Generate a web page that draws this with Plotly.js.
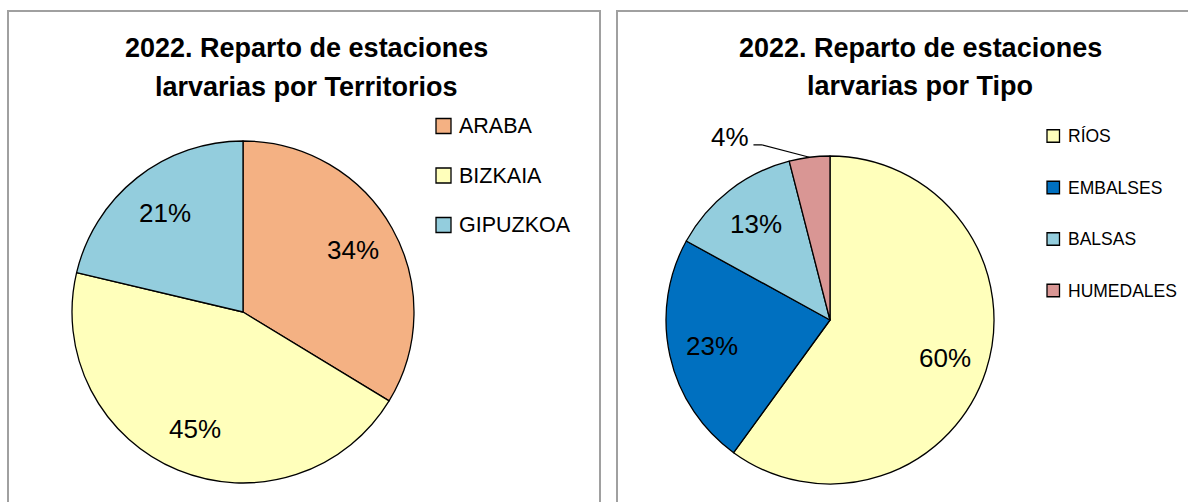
<!DOCTYPE html>
<html><head><meta charset="utf-8">
<script src="https://cdn.plot.ly/plotly-3.0.1.min.js"></script>
<style>html,body{margin:0;padding:0;background:#fff;} #chart{width:1188px;height:502px;}</style>
</head><body><div id="chart"></div>
<script>
// ---- data (shares, in %) ----
const territoryLabels = ['ARABA', 'BIZKAIA', 'GIPUZKOA'];
const territoryValues = [33.7, 45.0, 21.3];
const typeLabels = ['RÍOS', 'EMBALSES', 'BALSAS', 'HUMEDALES'];
const typeValues = [60, 23, 13, 4];
const leftTitle = ['2022. Reparto de estaciones', 'larvarias por Territorios'];
const rightTitle = ['2022. Reparto de estaciones', 'larvarias por Tipo'];

// ---- styles / layout ----
const territoryColors = ['#F4B183', '#FFFFBB', '#93CDDD'];
const typeColors = ['#FFFFBB', '#0070C0', '#93CDDD', '#D99694'];
const W = 1188, H = 502;
const FONT = '"Liberation Sans", Arial, sans-serif';
const px = x => x / W, py = y => 1 - y / H;

const panels = [
  {labels: territoryLabels, values: territoryValues, colors: territoryColors,
   cx: 243, cy: 312, r: 171, title: leftTitle, titleX: 306, titleY: [48, 87], titleSize: 27,
   legX: 436, legY0: 126, legDY: 49.5, sw: 15, legFont: 21.5, labFont: 26,
   frame: [8, 11, 600, 530]},
  {labels: typeLabels, values: typeValues, colors: typeColors,
   cx: 830, cy: 320, r: 164, title: rightTitle, titleX: 920, titleY: [48, 86], titleSize: 27,
   legX: 1047, legY0: 136, legDY: 51.5, sw: 12.5, legFont: 17.5, labFont: 26,
   frame: [617, 11, 1210, 530]}
];

const traces = [], annotations = [], shapes = [];

panels.forEach(p => {
  traces.push({
    type: 'pie', labels: p.labels, values: p.values, sort: false,
    direction: 'clockwise', rotation: 0, textinfo: 'none', hoverinfo: 'none',
    marker: {colors: p.colors, line: {color: '#000', width: 1.3}},
    domain: {x: [px(p.cx - p.r), px(p.cx + p.r)], y: [py(p.cy + p.r), py(p.cy - p.r)]},
    showlegend: false
  });
  // frame
  shapes.push({type: 'rect', xref: 'paper', yref: 'paper',
    x0: px(p.frame[0]), x1: px(p.frame[2]), y0: py(p.frame[3]), y1: py(p.frame[1]),
    line: {color: '#A0A0A0', width: 2}, fillcolor: 'rgba(0,0,0,0)', layer: 'below'});
  // title lines
  p.title.forEach((t, i) => annotations.push({
    xref: 'paper', yref: 'paper', x: px(p.titleX), y: py(p.titleY[i]),
    xanchor: 'center', yanchor: 'middle', showarrow: false,
    text: '<b>' + t + '</b>', font: {family: FONT, size: p.titleSize, color: '#000'}
  }));
  // slice labels
  const total = p.values.reduce((a, b) => a + b, 0);
  let cum = 0;
  p.values.forEach((v, i) => {
    const mid = (cum + v / 2) / total * 2 * Math.PI;
    cum += v;
    const pct = Math.round(v / total * 100) + '%';
    if (v / total < 0.06) {
      const ex = p.cx + p.r * Math.sin(mid), ey = p.cy - p.r * Math.cos(mid);
      const bx = ex - 48, by = ey - 12.5, endX = bx - 8;
      shapes.push({type: 'path', xref: 'paper', yref: 'paper',
        path: `M ${px(ex)},${py(ey)} L ${px(bx)},${py(by)} L ${px(endX)},${py(by)}`,
        line: {color: '#000', width: 1.2}});
      annotations.push({xref: 'paper', yref: 'paper', x: px(endX - 2), y: py(by - 8),
        xanchor: 'right', yanchor: 'middle', showarrow: false, text: pct,
        font: {family: FONT, size: p.labFont, color: '#000'}});
    } else {
      const f = 0.74;
      annotations.push({xref: 'paper', yref: 'paper',
        x: px(p.cx + f * p.r * Math.sin(mid)), y: py(p.cy - f * p.r * Math.cos(mid)),
        xanchor: 'center', yanchor: 'middle', showarrow: false, text: pct,
        font: {family: FONT, size: p.labFont, color: '#000'}});
    }
  });
  // custom legend
  p.labels.forEach((lab, i) => {
    const cy = p.legY0 + i * p.legDY;
    shapes.push({type: 'rect', xref: 'paper', yref: 'paper',
      x0: px(p.legX), x1: px(p.legX + p.sw), y0: py(cy + p.sw / 2), y1: py(cy - p.sw / 2),
      fillcolor: p.colors[i], line: {color: '#000', width: 1.3}});
    annotations.push({xref: 'paper', yref: 'paper', x: px(p.legX + p.sw + 6), y: py(cy),
      xanchor: 'left', yanchor: 'middle', showarrow: false, text: lab,
      font: {family: FONT, size: p.legFont, color: '#000'}});
  });
});

const layout = {
  width: W, height: H, margin: {l: 0, r: 0, t: 0, b: 0},
  paper_bgcolor: '#fff', showlegend: false,
  annotations: annotations, shapes: shapes, font: {family: FONT}
};
Plotly.newPlot('chart', traces, layout, {displayModeBar: false, staticPlot: true});
</script></body></html>
